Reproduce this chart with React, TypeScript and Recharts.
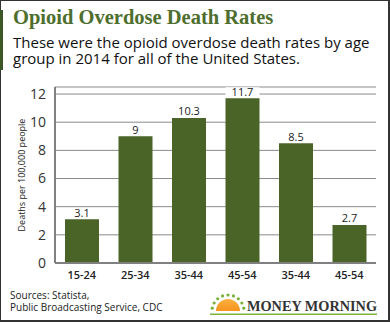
import { BarChart, Bar, XAxis, YAxis, CartesianGrid, LabelList } from "recharts";

const ageGroups = ["15-24", "25-34", "35-44", "45-54", "35-44", "45-54"];
const deathRates = [3.1, 9, 10.3, 11.7, 8.5, 2.7];
const yTicks = [0, 2, 4, 6, 8, 10, 12];

const data = ageGroups.map((age, i) => ({ age, rate: deathRates[i] }));

const SANS = "'Open Sans', 'Liberation Sans', sans-serif";
const SERIF = "'Liberation Serif', 'DejaVu Serif', serif";

const BarLabel = (props: any) => {
  const { x, y, width, value } = props;
  return (
    <g>
      <rect x={x} y={y - 11} width={width} height={10} fill="#fff" />
      <text x={x + width / 2} y={y - 2.5} textAnchor="middle" fontSize={11} fill="#222" fontFamily={SANS}>
        {value}
      </text>
    </g>
  );
};

const YLabel = (props: any) => {
  const { viewBox } = props;
  const cx = viewBox.x + 21;
  const cy = viewBox.y + viewBox.height / 2;
  return (
    <text x={cx} y={cy} transform={`rotate(-90 ${cx} ${cy})`} textAnchor="middle" dominantBaseline="central" fontSize={9} fill="#222" fontFamily={SANS}>
      Deaths per 100,000 people
    </text>
  );
};

// Money Morning logo, bottom right
function Logo() {
  const rays = [-80, -60, -40, -20, 0, 20, 40, 60, 80];
  return (
    <svg width={182} height={34} style={{ position: "absolute", left: 205, top: 283 }}>
      <defs>
        <linearGradient id="sun" x1="0" y1="0" x2="0" y2="1">
          <stop offset="0" stopColor="#fbb040" />
          <stop offset="1" stopColor="#f7941d" />
        </linearGradient>
      </defs>
      {rays.map((a) => {
        const r = (a * Math.PI) / 180;
        const cx = 23 + Math.sin(r) * 16;
        const cy = 28 - Math.cos(r) * 16;
        return <circle key={a} cx={cx} cy={cy} r={1.6} fill="#7ab33c" />;
      })}
      <path d="M 11 28 A 12 12 0 0 1 35 28 Z" fill="url(#sun)" />
      <text x={42} y={28} fontFamily={SERIF} fontWeight="bold" fontSize={15} fill="#333" textLength={130} lengthAdjust="spacingAndGlyphs">
        MONEY MORNING
      </text>
      <rect x={5} y={30.5} width={167} height={1.5} fill="#7ab33c" />
    </svg>
  );
}

export default function App() {
  return (
    <div
      style={{
        position: "relative",
        width: 390,
        height: 322,
        background: "#fff",
        boxShadow: "inset 1px 1px 0 #333, inset -2px -2px 0 #333",
        overflow: "hidden",
      }}
    >
      <style>{`body{margin:0}`}</style>
      <div style={{ position: "absolute", left: 0, top: 10, width: 3, height: 60, background: "#3d5626" }} />
      <BarChart
        width={390}
        height={322}
        data={data}
        margin={{ top: 87, right: 14, bottom: 29, left: 0 }}
        style={{ position: "absolute", left: 0, top: 0 }}
      >
        <CartesianGrid vertical={false} stroke="#8a8a8a" strokeWidth={1} />
        <XAxis
          dataKey="age"
          height={30}
          tickLine={false}
          axisLine={{ stroke: "#808080", strokeWidth: 2 }}
          tick={{ fontSize: 11, fill: "#222", fontFamily: SANS, fontWeight: 600 }}
        />
        <XAxis xAxisId="top" orientation="top" dataKey="age" height={0} tick={false} tickLine={false} axisLine={{ stroke: "#808080", strokeWidth: 2 }} />
        <YAxis
          width={55}
          domain={[0, 12.5]}
          ticks={yTicks}
          tickLine={false}
          tickMargin={3}
          axisLine={{ stroke: "#808080", strokeWidth: 2 }}
          tick={{ fontSize: 14, fill: "#333", fontFamily: SANS }}
          label={<YLabel />}
        />
        <YAxis yAxisId="right" orientation="right" width={0} tick={false} tickLine={false} axisLine={{ stroke: "#808080", strokeWidth: 2 }} />
        <Bar dataKey="rate" fill="#4a6428" barSize={34} isAnimationActive={false}>
          <LabelList dataKey="rate" content={<BarLabel />} />
        </Bar>
      </BarChart>
      <div
        style={{
          position: "absolute",
          left: 13,
          top: 5,
          fontFamily: SERIF,
          fontWeight: "bold",
          fontSize: 20.5,
          color: "#4e6e2e",
          lineHeight: "24px",
          whiteSpace: "nowrap",
        }}
      >
        Opioid Overdose Death Rates
      </div>
      <div style={{ position: "absolute", left: 13, top: 34, fontFamily: SANS, fontSize: 15, color: "#111", lineHeight: "16px", whiteSpace: "nowrap" }}>
        <div>These were the opioid overdose death rates by age</div>
        <div>group in 2014 for all of the United States.</div>
      </div>
      <div style={{ position: "absolute", left: 10, top: 289, fontFamily: SANS, fontSize: 10, color: "#222", lineHeight: "12px", whiteSpace: "nowrap" }}>
        <div>Sources: Statista,</div>
        <div>Public Broadcasting Service, CDC</div>
      </div>
      <Logo />
    </div>
  );
}
